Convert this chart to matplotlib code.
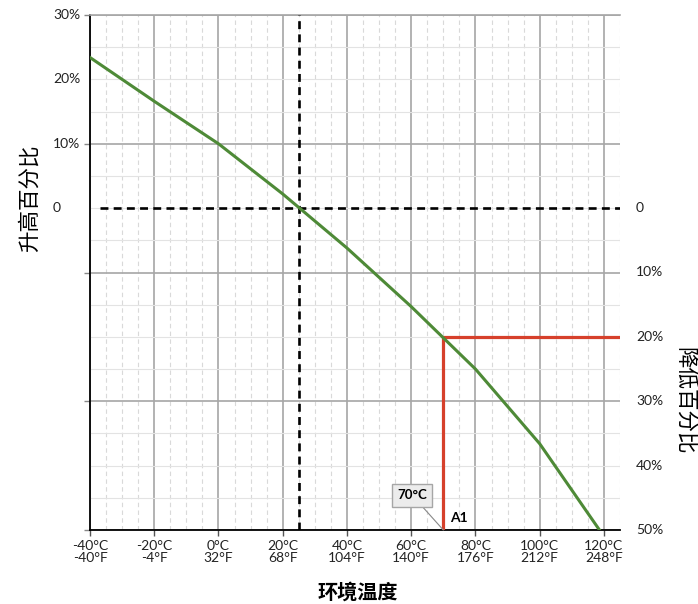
import matplotlib
matplotlib.use("Agg")
import matplotlib.pyplot as plt
from matplotlib.ticker import MultipleLocator

plt.rcParams['font.family'] = ['Lato', 'Noto Sans CJK SC', 'DejaVu Sans']

# Data
temps_c = [-40, -20, 0, 20, 40, 60, 80, 100, 120]
change_pct = [23.4, 16.6, 10.0, 2.2, -6.2, -15.3, -25.0, -36.6, -51.0]

x_ticks_c = [-40, -20, 0, 20, 40, 60, 80, 100, 120]
x_ticks_f = [-40, -4, 32, 68, 104, 140, 176, 212, 248]
left_labels = [(30, "30%"), (20, "20%"), (10, "10%"), (0, "0")]
right_labels = [(0, "0"), (-10, "10%"), (-20, "20%"), (-30, "30%"), (-40, "40%"), (-50, "50%")]

ref_temp = 25
ref_pct = 0
op_temp = 70
op_pct = -20

W, H = 698, 604
fig = plt.figure(figsize=(W / 100, H / 100), dpi=100)
ax = fig.add_axes([90 / W, 1 - 530 / H, 530 / W, 515 / H])

ax.set_xlim(-40, 125)
ax.set_ylim(-50, 30)

# grid
ax.set_xticks(x_ticks_c)
ax.set_xticklabels([f"{c}°C\n{f}°F" for c, f in zip(x_ticks_c, x_ticks_f)],
                   fontsize=10, linespacing=1.0, color='#222222')
ax.xaxis.set_minor_locator(MultipleLocator(5))
ax.set_yticks([30, 10, -10, -30, -50])
ax.set_yticklabels([])
ax.yaxis.set_minor_locator(MultipleLocator(5))
ax.tick_params(axis='both', which='major', length=4, width=1, color='#888888', direction='out')
ax.tick_params(axis='x', which='major', pad=3, color='#555555')
ax.tick_params(axis='both', which='minor', length=0)

ax.grid(axis='x', which='major', color='#a6a6a6', lw=1.2, ls='-')
ax.grid(axis='y', which='major', color='#a6a6a6', lw=1.2, ls='-')
ax.grid(axis='x', which='minor', color='#d9d9d9', lw=0.8, ls=(0, (4, 3)))
ax.grid(axis='y', which='minor', color='#e3e3e3', lw=0.8, ls='-')
ax.set_axisbelow(True)

for s in ['left', 'bottom']:
    ax.spines[s].set_color('black')
    ax.spines[s].set_linewidth(1.3)
ax.spines['top'].set_color('#a6a6a6')
ax.spines['top'].set_linewidth(1.2)
ax.spines['right'].set_visible(False)

# dashed reference lines
ax.plot([ref_temp, ref_temp], [-50, 30], color='black', lw=1.9, dashes=(3, 2), zorder=3)
ax.plot([-37, 125], [ref_pct, ref_pct], color='black', lw=1.9, dashes=(3, 2), zorder=3)

# red operating lines
ax.plot([op_temp, op_temp], [-50, op_pct], color='#d6402b', lw=2.3, zorder=4, solid_capstyle='butt')
ax.plot([op_temp, 125], [op_pct, op_pct], color='#d6402b', lw=2.3, zorder=4, solid_capstyle='butt')

# curve
ax.plot(temps_c, change_pct, color='#4e8a37', lw=2.2, zorder=5)

# y labels as text
ytr = ax.get_yaxis_transform()
for v, t in left_labels:
    ax.text(-37 / 530, v, t, transform=ytr, ha='left', va='center', fontsize=10, color='#222222')
for v, t in right_labels:
    ax.text(1 + 16 / 530, v, t, transform=ytr, ha='left', va='center', fontsize=10, color='#222222')

# annotations
ax.annotate("70°C", xy=(op_temp, -50), xytext=(60.3, -44.6),
            fontsize=9.5, fontweight='bold', ha='center', va='center',
            bbox=dict(boxstyle='square,pad=0.4', fc='#ececec', ec='#a6a6a6', lw=1),
            arrowprops=dict(arrowstyle='-', color='#888888', lw=0.8, shrinkA=0, shrinkB=0),
            annotation_clip=False, zorder=6)
ax.text(72.1, -48.2, "A1", fontsize=10, fontweight='bold', ha='left', va='center', zorder=6)

fig.text(30 / W, 1 - 198 / H, "升高百分比", rotation=90, ha='center', va='center', fontsize=15.5,
         family=['Noto Sans CJK SC', 'DejaVu Sans'])
fig.text(685 / W, 1 - 401 / H, "降低百分比", rotation=-90, ha='center', va='center', fontsize=15.5,
         family=['Noto Sans CJK SC', 'DejaVu Sans'])
fig.text(358 / W, 1 - 592 / H, "环境温度", ha='center', va='center', fontsize=14.5, fontweight='bold',
         family=['Noto Sans CJK SC', 'DejaVu Sans'])

fig.savefig("out.png", dpi=100)
